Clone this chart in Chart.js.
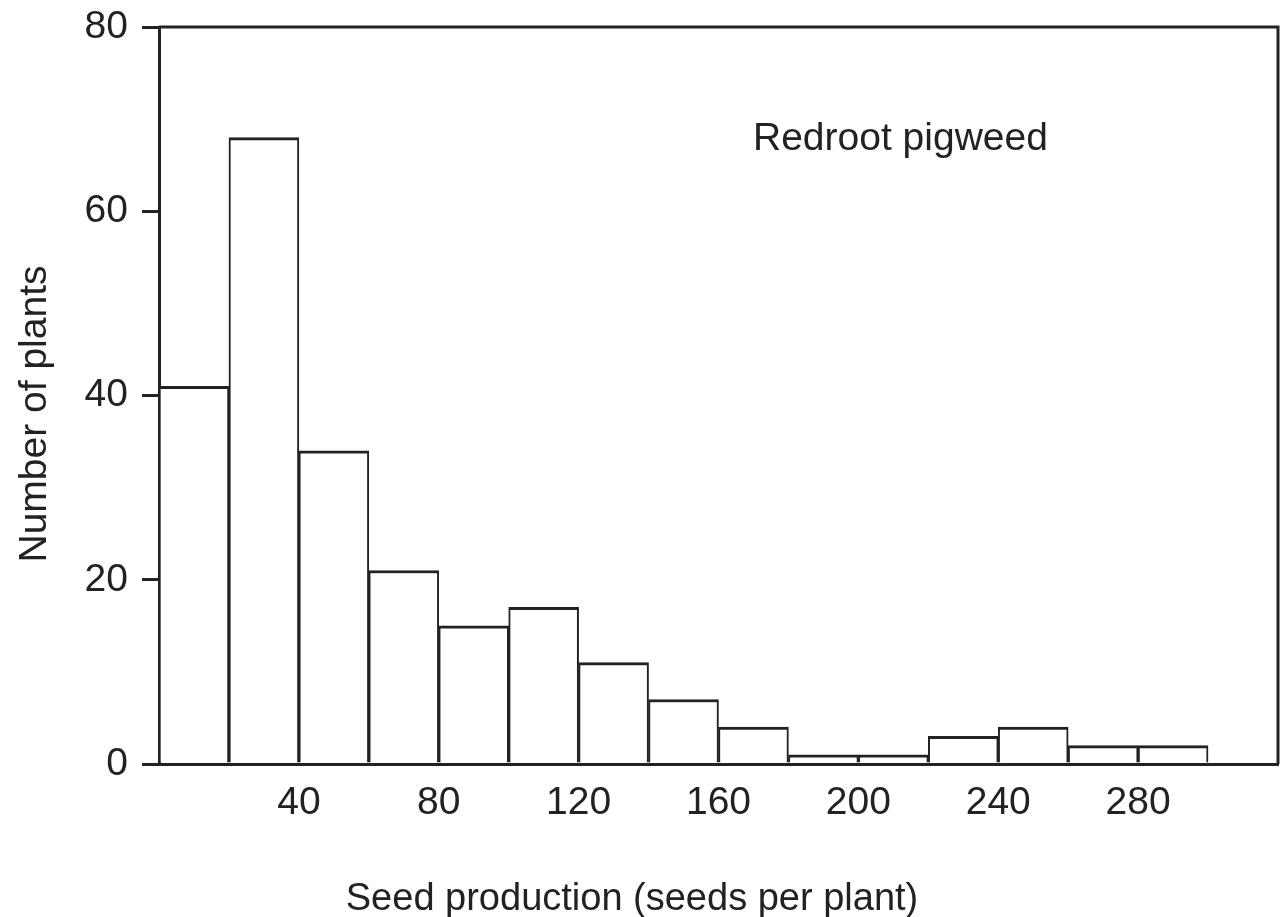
<!DOCTYPE html>
<html lang="en">
<head>
<meta charset="UTF-8">
<title>Redroot pigweed seed production</title>
<script src="https://cdn.jsdelivr.net/npm/chart.js"></script>
<style>
  html, body { margin: 0; padding: 0; background: #fff; }
  #wrap { width: 1281px; height: 917px; }
</style>
</head>
<body>
<div id="wrap"><canvas id="seedChart"></canvas></div>
<script>
// histogram bins (seeds per plant), 20 wide
const binStarts = [0, 20, 40, 60, 80, 100, 120, 140, 160, 180, 200, 220, 240, 260, 280];
const binWidth = 20;
const plantCounts = [41, 68, 34, 21, 15, 17, 11, 7, 4, 1, 1, 3, 4, 2, 2];
const xTickValues = [40, 80, 120, 160, 200, 240, 280];
const yTickValues = [0, 20, 40, 60, 80];

const xTitle = 'Seed production (seeds per plant)';
const yTitle = 'Number of plants';
const panelLabel = 'Redroot pigweed';

const ink = '#222222';
const font = '"Liberation Sans", Arial, Helvetica, sans-serif';

const points = binStarts.map((s, i) => ({ x: s + binWidth / 2, y: plantCounts[i] }));

// frame + free text
const extras = {
  id: 'extras',
  afterDraw(chart) {
    const { ctx, chartArea: a } = chart;
    ctx.save();
    ctx.strokeStyle = ink;
    ctx.lineWidth = 3;
    ctx.beginPath();
    ctx.moveTo(a.left, a.top);
    ctx.lineTo(a.right, a.top);
    ctx.lineTo(a.right, a.bottom);
    ctx.stroke();

    ctx.fillStyle = ink;
    ctx.font = '39px ' + font;
    ctx.textBaseline = 'alphabetic';
    ctx.textAlign = 'left';
    ctx.fillText(panelLabel, 753, 150);

    ctx.save();
    ctx.translate(46, 414);
    ctx.rotate(-Math.PI / 2);
    ctx.textAlign = 'center';
    ctx.fillText(yTitle, 0, 0);
    ctx.restore();

    ctx.font = '38px ' + font;
    ctx.textAlign = 'center';
    ctx.fillText(xTitle, 632, 910);
    ctx.restore();
  }
};

new Chart(document.getElementById('seedChart'), {
  type: 'bar',
  data: {
    datasets: [{
      data: points,
      backgroundColor: '#ffffff',
      borderColor: ink,
      borderWidth: { top: 3, left: 2, right: 2, bottom: 0 },
      borderSkipped: 'start',
      barPercentage: 1,
      categoryPercentage: 1
    }]
  },
  options: {
    responsive: true,
    maintainAspectRatio: false,
    animation: false,
    layout: { padding: { top: 27, right: 3, left: 0, bottom: 0 } },
    plugins: { legend: { display: false }, tooltip: { enabled: false } },
    scales: {
      x: {
        type: 'linear',
        min: 0,
        max: 320,
        offset: false,
        afterBuildTicks: s => { s.ticks = xTickValues.map(v => ({ value: v })); },
        afterFit: s => { s.height = 153; s.paddingLeft = 0; s.paddingRight = 0; },
        grid: { display: false, drawTicks: false },
        border: { display: true, color: ink, width: 3 },
        ticks: { color: ink, font: { family: font, size: 39 }, padding: 16, maxRotation: 0 }
      },
      y: {
        min: 0,
        max: 80,
        afterBuildTicks: s => { s.ticks = yTickValues.map(v => ({ value: v })); },
        afterFit: s => { s.width = 159; s.paddingTop = 0; s.paddingBottom = 0; },
        grid: { drawOnChartArea: false, drawTicks: true, tickLength: 17, color: ink, lineWidth: 3 },
        border: { display: true, color: ink, width: 3 },
        ticks: { color: ink, font: { family: font, size: 39 }, padding: 14 }
      }
    }
  },
  plugins: [extras]
});
</script>
</body>
</html>
